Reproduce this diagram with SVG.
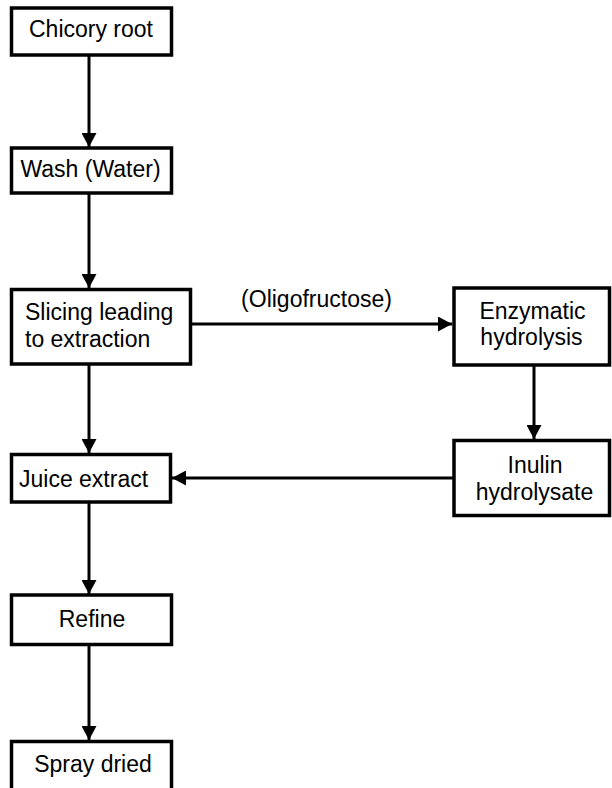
<svg xmlns="http://www.w3.org/2000/svg" width="612" height="788" viewBox="0 0 612 788">
<style>
.box{fill:#fff;stroke:#000;stroke-width:3.5}
.t{font-family:"Liberation Sans",Arial,sans-serif;font-size:23px;fill:#000}
.c{stroke:#000;stroke-width:3;fill:none}
</style>
<defs>
<marker id="ah" markerUnits="userSpaceOnUse" markerWidth="15" markerHeight="15" refX="14" refY="7.5" orient="auto" viewBox="0 0 15 15">
<path d="M0,0 L14,7.5 L0,15 Z" fill="#000"/>
</marker>
</defs>
<rect width="612" height="788" fill="#fff"/>
<g id="connectors">
<line class="c" x1="89" y1="56" x2="89" y2="147" marker-end="url(#ah)"/>
<line class="c" x1="89" y1="193" x2="89" y2="288" marker-end="url(#ah)"/>
<line class="c" x1="89" y1="364" x2="89" y2="453" marker-end="url(#ah)"/>
<line class="c" x1="89" y1="502" x2="89" y2="594" marker-end="url(#ah)"/>
<line class="c" x1="89" y1="645" x2="89" y2="740" marker-end="url(#ah)"/>
<line class="c" x1="190" y1="324" x2="452" y2="324" marker-end="url(#ah)"/>
<line class="c" x1="534" y1="365" x2="534" y2="439" marker-end="url(#ah)"/>
<line class="c" x1="453" y1="478" x2="172" y2="478" marker-end="url(#ah)"/>
<text class="t" x="316.5" y="307" text-anchor="middle">(Oligofructose)</text>
</g>
<g id="chicory">
<rect class="box" x="11.5" y="8" width="160" height="47"/>
<text class="t" x="91" y="37" text-anchor="middle">Chicory root</text>
</g>
<g id="wash">
<rect class="box" x="11.5" y="148" width="160" height="45"/>
<text class="t" x="90.5" y="177" text-anchor="middle">Wash (Water)</text>
</g>
<g id="slicing">
<rect class="box" x="11.5" y="289.5" width="179" height="74.5"/>
<text class="t" x="25" y="320">Slicing leading</text>
<text class="t" x="25" y="347">to extraction</text>
</g>
<g id="juice">
<rect class="box" x="11.5" y="454.5" width="159" height="47.5"/>
<text class="t" x="19" y="487">Juice extract</text>
</g>
<g id="refine">
<rect class="box" x="11.5" y="595" width="160" height="49.5"/>
<text class="t" x="92" y="627" text-anchor="middle">Refine</text>
</g>
<g id="spray">
<rect class="box" x="11.5" y="741.5" width="160" height="60"/>
<text class="t" x="93" y="772" text-anchor="middle">Spray dried</text>
</g>
<g id="enzymatic">
<rect class="box" x="454" y="288" width="155.5" height="77"/>
<text class="t" x="532.5" y="319" text-anchor="middle">Enzymatic</text>
<text class="t" x="531.5" y="345" text-anchor="middle">hydrolysis</text>
</g>
<g id="inulin">
<rect class="box" x="454" y="440.5" width="155.5" height="75"/>
<text class="t" x="535" y="473" text-anchor="middle">Inulin</text>
<text class="t" x="534.5" y="500" text-anchor="middle">hydrolysate</text>
</g>
</svg>
